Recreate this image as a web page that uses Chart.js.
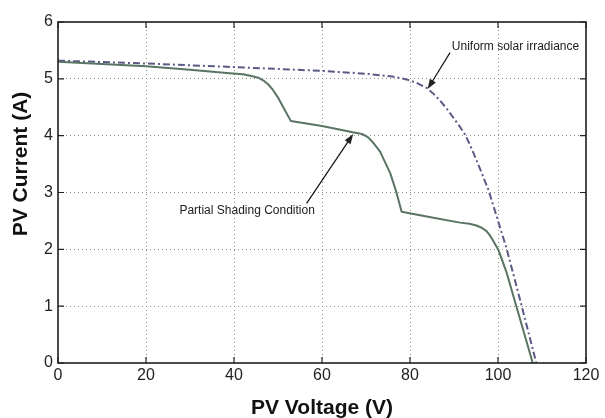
<!DOCTYPE html>
<html>
<head>
<meta charset="utf-8">
<script src="https://cdn.jsdelivr.net/npm/chart.js@4"></script>
<style>
  html, body { margin: 0; padding: 0; background: #fff; }
  #wrap { width: 605px; height: 418px; }
</style>
</head>
<body>
<div id="wrap"><canvas id="grafico" width="605" height="418"></canvas></div>
<script>
// curva com sombreamento parcial (V, A)
const shadedV = [0, 10, 20, 30, 39, 42, 44, 45.5, 46.7, 47.8, 48.9, 50, 51.2, 52.9, 60, 67, 68.5, 69.4, 70.5, 71.7, 72.5, 73.2, 74.3, 75.5, 76.8, 78.1, 85, 91.4, 93.5, 95.1, 96.3, 97.4, 98.2, 98.9, 100.1, 102, 104.2, 107.9];
const shadedI = [5.30, 5.26, 5.22, 5.16, 5.10, 5.08, 5.05, 5.02, 4.97, 4.90, 4.80, 4.67, 4.50, 4.26, 4.17, 4.06, 4.04, 4.02, 3.97, 3.87, 3.79, 3.72, 3.54, 3.34, 3.03, 2.66, 2.56, 2.47, 2.45, 2.42, 2.38, 2.32, 2.24, 2.15, 1.99, 1.58, 0.99, 0];
// curva com irradiancia uniforme
const uniformV = [0, 20, 39.1, 60, 70, 76, 79.2, 81.5, 83.8, 85.3, 86.8, 88.3, 90.2, 91.4, 92.5, 93.5, 94.4, 95.9, 97.8, 99.3, 102.0, 105.4, 108.7];
const uniformI = [5.32, 5.27, 5.21, 5.14, 5.09, 5.04, 4.99, 4.93, 4.84, 4.74, 4.62, 4.48, 4.28, 4.15, 4.02, 3.86, 3.70, 3.42, 3.05, 2.68, 2.00, 1.00, 0];

const xTicks = [0, 20, 40, 60, 80, 100, 120];
const yTicks = [0, 1, 2, 3, 4, 5, 6];

// anotacoes: texto, posicao do texto e seta (cauda -> ponta), em unidades dos eixos
const notas = [
  { txt: 'Uniform solar irradiance', tx: 89.5, ty: 5.57, x0: 89.1, y0: 5.46, x1: 84.0, y1: 4.82 },
  { txt: 'Partial Shading Condition', tx: 27.6, ty: 2.68, x0: 56.5, y0: 2.81, x1: 67.1, y1: 4.03 }
];

const FONTE = '"Liberation Sans", Arial, Helvetica, sans-serif';

function pontos(xs, ys) { return xs.map((v, i) => ({ x: v, y: ys[i] })); }

function seta(ctx, ax, ay, bx, by) {
  const ang = Math.atan2(by - ay, bx - ax);
  const L = 10, W = 3.5;
  ctx.beginPath();
  ctx.moveTo(ax, ay);
  ctx.lineTo(bx - Math.cos(ang) * L * 0.8, by - Math.sin(ang) * L * 0.8);
  ctx.stroke();
  ctx.beginPath();
  ctx.moveTo(bx, by);
  ctx.lineTo(bx - Math.cos(ang) * L - Math.sin(ang) * W, by - Math.sin(ang) * L + Math.cos(ang) * W);
  ctx.lineTo(bx - Math.cos(ang) * L + Math.sin(ang) * W, by - Math.sin(ang) * L - Math.cos(ang) * W);
  ctx.closePath();
  ctx.fill();
}

const molduraPlugin = {
  id: 'moldura',
  afterDraw(chart) {
    const { ctx, chartArea: a, scales: { x, y } } = chart;
    ctx.save();
    // ticks para dentro nos quatro lados
    ctx.strokeStyle = '#222';
    ctx.lineWidth = 1.2;
    ctx.beginPath();
    xTicks.forEach(v => {
      const px = x.getPixelForValue(v);
      ctx.moveTo(px, a.bottom); ctx.lineTo(px, a.bottom - 6);
      ctx.moveTo(px, a.top); ctx.lineTo(px, a.top + 6);
    });
    yTicks.forEach(v => {
      const py = y.getPixelForValue(v);
      ctx.moveTo(a.left, py); ctx.lineTo(a.left + 6, py);
      ctx.moveTo(a.right, py); ctx.lineTo(a.right - 6, py);
    });
    ctx.stroke();
    ctx.lineWidth = 1.6;
    ctx.strokeRect(a.left, a.top, a.right - a.left, a.bottom - a.top);

    // anotacoes
    ctx.fillStyle = '#222';
    ctx.strokeStyle = '#111';
    ctx.lineWidth = 1.2;
    ctx.font = '12px ' + FONTE;
    ctx.textAlign = 'left';
    ctx.textBaseline = 'middle';
    notas.forEach(n => {
      ctx.fillText(n.txt, x.getPixelForValue(n.tx), y.getPixelForValue(n.ty));
      seta(ctx, x.getPixelForValue(n.x0), y.getPixelForValue(n.y0), x.getPixelForValue(n.x1), y.getPixelForValue(n.y1));
    });

    // titulo do eixo y
    ctx.translate(21, 164);
    ctx.rotate(-Math.PI / 2);
    ctx.font = 'bold 21px ' + FONTE;
    ctx.textAlign = 'center';
    ctx.fillStyle = '#111';
    ctx.fillText('PV Current (A)', 0, 0);
    ctx.restore();
  }
};

new Chart(document.getElementById('grafico'), {
  type: 'line',
  data: {
    datasets: [
      { label: 'Partial Shading Condition', data: pontos(shadedV, shadedI), borderColor: '#5a7464', borderWidth: 2, pointRadius: 0, tension: 0, borderJoinStyle: 'round', fill: false },
      { label: 'Uniform solar irradiance', data: pontos(uniformV, uniformI), borderColor: '#5a5a86', borderWidth: 2, borderDash: [7, 3, 2, 3], pointRadius: 0, tension: 0, fill: false }
    ]
  },
  options: {
    responsive: false,
    animation: false,
    events: [],
    layout: { padding: { top: 22, right: 19, left: 0, bottom: 0 } },
    plugins: { legend: { display: false }, tooltip: { enabled: false } },
    scales: {
      x: {
        type: 'linear', min: 0, max: 120,
        afterFit: s => { s.height = 55; },
        afterBuildTicks: s => { s.ticks = xTicks.map(v => ({ value: v })); },
        grid: { color: '#8a8a8a', lineWidth: 1, drawTicks: false },
        border: { display: false, dash: [1, 3] },
        ticks: { color: '#222', font: { family: FONTE, size: 16 }, padding: 3, maxRotation: 0 },
        title: { display: true, text: 'PV Voltage (V)', color: '#111', font: { family: FONTE, size: 21, weight: 'bold' }, padding: { top: 0, bottom: -3 } }
      },
      y: {
        type: 'linear', min: 0, max: 6,
        afterFit: s => { s.width = 58; },
        afterBuildTicks: s => { s.ticks = yTicks.map(v => ({ value: v })); },
        grid: { color: '#8a8a8a', lineWidth: 1, drawTicks: false },
        border: { display: false, dash: [1, 3] },
        ticks: { color: '#222', font: { family: FONTE, size: 16 }, padding: 5 }
      }
    }
  },
  plugins: [molduraPlugin]
});
</script>
</body>
</html>
